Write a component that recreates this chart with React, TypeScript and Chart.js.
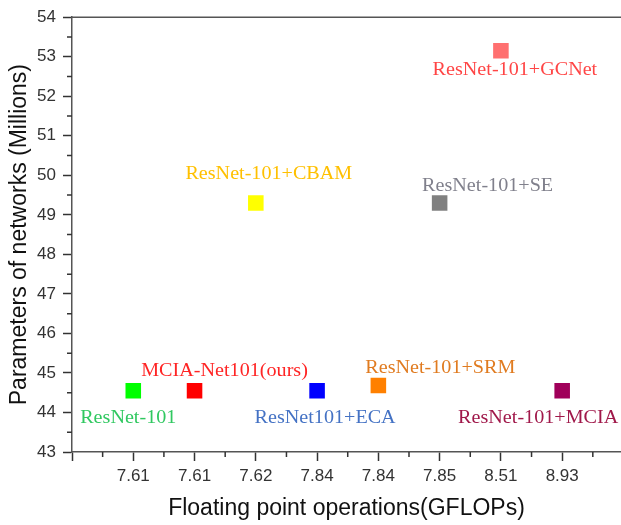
import React, { useEffect, useRef } from "react";
import { Chart, registerables } from "chart.js";

Chart.register(...registerables);

// ---- data ----
const models = [
  "ResNet-101",
  "MCIA-Net101(ours)",
  "ResNet-101+CBAM",
  "ResNet101+ECA",
  "ResNet-101+SRM",
  "ResNet-101+SE",
  "ResNet-101+GCNet",
  "ResNet-101+MCIA",
];
const gflopLabels = ["7.61", "7.61", "7.62", "7.84", "7.84", "7.85", "8.51", "8.93"];
const paramsMillions = [44.55, 44.55, 49.3, 44.55, 44.68, 49.3, 53.15, 44.55];

// ---- styles ----
const pointColors = ["#00ff00", "#ff0000", "#ffff00", "#0000ff", "#ff8000", "#808080", "#ff7070", "#a0005a"];
const labelColors = ["#30c860", "#ff2525", "#ffc000", "#4472c4", "#e07b20", "#80808c", "#ff4545", "#a0184a"];
const labelOffsets: [number, number][] = [
  [-5, 27],
  [30, -20],
  [13, -29],
  [8, 27],
  [62, -18],
  [48, -17],
  [14, 19],
  [-24, 27],
];

const AXIS = "#555555";
const TICK = "#333333";
const TICK_TEXT = "#333333";
const SANS = "'Liberation Sans', Arial, sans-serif";
const SERIF = "'Liberation Serif', 'Times New Roman', serif";
const STRETCH = 1.06;

const isInt = (v: number) => Math.abs(v - Math.round(v)) < 1e-6;

const pointLabelPlugin = {
  id: "pointLabels",
  afterDatasetsDraw(chart: any) {
    const meta = chart.getDatasetMeta(0);
    const ctx = chart.ctx;
    meta.data.forEach((el: any, i: number) => {
      ctx.save();
      ctx.font = `19px ${SERIF}`;
      ctx.textAlign = "center";
      ctx.textBaseline = "middle";
      ctx.fillStyle = labelColors[i];
      ctx.translate(el.x + labelOffsets[i][0], el.y + labelOffsets[i][1]);
      ctx.scale(STRETCH, 1);
      ctx.fillText(models[i], 0, 0);
      ctx.restore();
    });
  },
};

const framePlugin = {
  id: "frameAndMinorTicks",
  afterDraw(chart: any) {
    const { ctx, chartArea, scales } = chart;
    const { x, y } = scales;
    ctx.save();
    ctx.strokeStyle = AXIS;
    ctx.lineWidth = 1.5;
    ctx.beginPath();
    ctx.moveTo(chartArea.left, chartArea.top);
    ctx.lineTo(chartArea.right, chartArea.top);
    ctx.stroke();
    ctx.strokeStyle = TICK;
    ctx.beginPath();
    x.ticks.forEach((t: any) => {
      if (!isInt(t.value)) {
        const px = x.getPixelForValue(t.value);
        ctx.moveTo(px, chartArea.bottom);
        ctx.lineTo(px, chartArea.bottom + 5);
      }
    });
    y.ticks.forEach((t: any) => {
      if (!isInt(t.value)) {
        const py = y.getPixelForValue(t.value);
        ctx.moveTo(chartArea.left - 5, py);
        ctx.lineTo(chartArea.left, py);
      }
    });
    ctx.stroke();
    ctx.restore();
  },
};

const majorTickColor = (c: any) => (c.tick && isInt(c.tick.value) ? TICK : "rgba(0,0,0,0)");

export default function App() {
  const ref = useRef<HTMLCanvasElement>(null);

  useEffect(() => {
    if (!ref.current) return;
    const chart = new Chart(ref.current, {
      type: "scatter",
      data: {
        datasets: [
          {
            data: paramsMillions.map((y, i) => ({ x: i + 1, y })),
            pointStyle: "rect",
            pointRadius: 11,
            pointHoverRadius: 11,
            pointBorderWidth: 0,
            backgroundColor: pointColors,
            borderColor: pointColors,
          },
        ],
      },
      options: {
        animation: false,
        responsive: false,
        layout: { autoPadding: false, padding: { top: 16, right: 0, left: 0, bottom: 0 } },
        plugins: {
          legend: { display: false },
          tooltip: { enabled: false },
        },
        scales: {
          x: {
            type: "linear",
            min: 0,
            max: 8.96,
            afterFit: (s: any) => {
              s.height = 73;
              s.paddingRight = 0;
              s.paddingLeft = 0;
            },
            border: { display: true, color: AXIS, width: 1.5 },
            grid: {
              drawOnChartArea: false,
              drawTicks: true,
              tickLength: 9,
              tickColor: majorTickColor,
              tickWidth: 1.5,
            },
            ticks: {
              stepSize: 0.5,
              autoSkip: false,
              maxRotation: 0,
              includeBounds: false,
              padding: 5,
              color: TICK_TEXT,
              font: { family: SANS, size: 17 },
              callback: (v: any) => {
                const n = Number(v);
                if (isInt(n) && n >= 1 && n <= gflopLabels.length) return gflopLabels[Math.round(n) - 1];
                return "";
              },
            },
            title: {
              display: true,
              text: "Floating point operations(GFLOPs)",
              color: "#111111",
              font: { family: SANS, size: 23 },
              padding: { top: 0, bottom: 3 },
            },
          },
          y: {
            type: "linear",
            min: 43,
            max: 54,
            afterFit: (s: any) => {
              s.width = 72;
            },
            border: { display: true, color: AXIS, width: 1.5 },
            grid: {
              drawOnChartArea: false,
              drawTicks: true,
              tickLength: 9,
              tickColor: majorTickColor,
              tickWidth: 1.5,
            },
            ticks: {
              stepSize: 0.5,
              autoSkip: false,
              padding: 7,
              color: TICK_TEXT,
              font: { family: SANS, size: 17 },
              callback: (v: any) => {
                const n = Number(v);
                return isInt(n) ? String(Math.round(n)) : "";
              },
            },
            title: {
              display: true,
              text: "Parameters of networks (Millions)",
              color: "#111111",
              font: { family: SANS, size: 23 },
              padding: { top: 6, bottom: 0 },
            },
          },
        },
      },
      plugins: [pointLabelPlugin, framePlugin],
    });
    return () => chart.destroy();
  }, []);

  return (
    <div
      style={{
        position: "fixed",
        left: 0,
        top: 0,
        width: 621,
        height: 525,
        overflow: "hidden",
        background: "#ffffff",
      }}
    >
      <canvas ref={ref} width={621} height={525} style={{ width: 621, height: 525, display: "block" }} />
    </div>
  );
}
